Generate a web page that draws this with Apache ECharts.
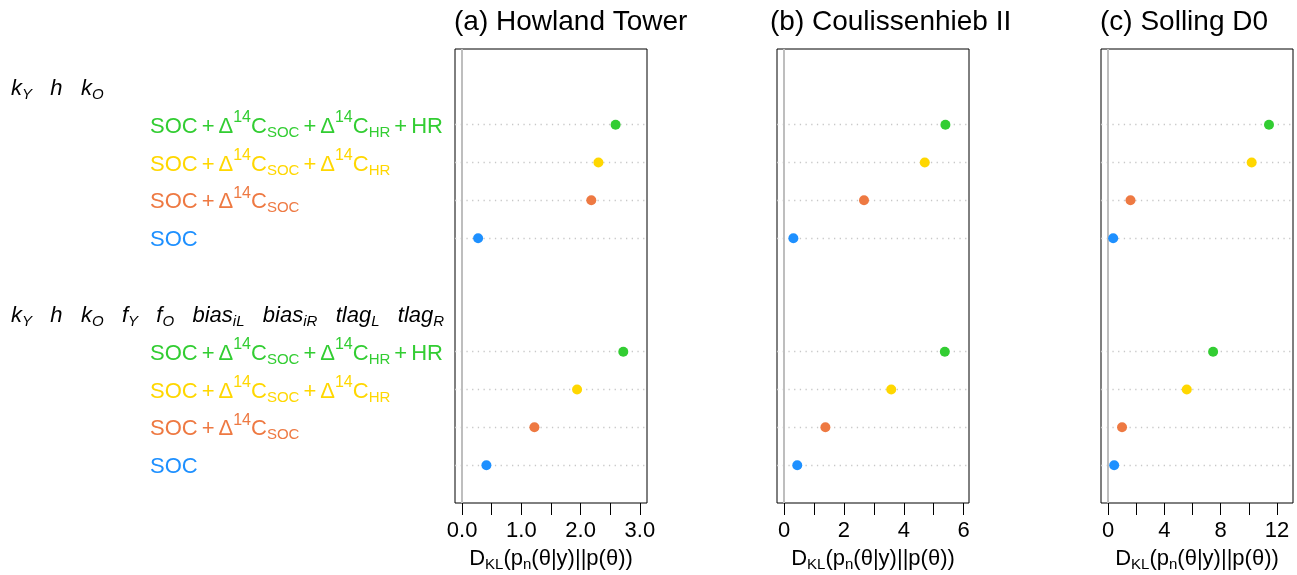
<!DOCTYPE html>
<html><head><meta charset="utf-8">
<script src="https://cdn.jsdelivr.net/npm/echarts@6/dist/echarts.min.js"></script>
<style>html,body{margin:0;padding:0;background:#fff}#c{width:1297px;height:575px}</style>
</head><body><div id="c"></div>
<script>
// ---------- data ----------
const panelTitles = ['(a) Howland Tower', '(b) Coulissenhieb II', '(c) Solling D0'];
const groupLabels = ['k_{Y}   h   k_{O}', 'k_{Y}   h   k_{O}   f_{Y}   f_{O}   bias_{iL}   bias_{iR}   tlag_{L}   tlag_{R}'];
const comboLabels = ['SOC + Δ^{14}C_{SOC} + Δ^{14}C_{HR} + HR', 'SOC + Δ^{14}C_{SOC} + Δ^{14}C_{HR}', 'SOC + Δ^{14}C_{SOC}', 'SOC'];
const comboColors = ['#32CD32', '#FFD700', '#EE7942', '#1E90FF'];
const groupRows = [0, 6];
const comboRows = [1, 2, 3, 4, 7, 8, 9, 10];
const howland = [2.59, 2.30, 2.18, 0.27, 2.72, 1.94, 1.22, 0.41];
const coulissenhieb = [5.39, 4.70, 2.67, 0.31, 5.37, 3.58, 1.38, 0.44];
const solling = [11.43, 10.20, 1.59, 0.36, 7.46, 5.59, 0.99, 0.43];
const xLimits = [[-0.12, 3.12], [-0.237, 6.178], [-0.505, 13.136]];
const xTicks = [[0, 0.5, 1, 1.5, 2, 2.5, 3], [0, 1, 2, 3, 4, 5, 6], [0, 2, 4, 6, 8, 10, 12]];
const xTickLabels = [[0, 1, 2, 3], [0, 2, 4, 6], [0, 4, 8, 12]];
const xLabelDigits = [1, 0, 0];
const axisTitle = 'D_{KL}(p_{n}(θ|y)||p(θ))';

// ---------- helpers ----------
const FONT = "'Liberation Sans', Arial, Helvetica, sans-serif";
function toRich(s, k) {
  const parts = s.split(/(\^\{[^}]*\}|_\{[^}]*\}| \+ )/).filter(p => p !== '');
  return parts.map(p => {
    if (p.startsWith('^{')) return '{sup' + k + '|' + p.slice(2, -1) + '}';
    if (p.startsWith('_{')) return '{sub' + k + '|' + p.slice(2, -1) + '}';
    if (p === ' + ') return '{op' + k + '|+}';
    return '{m' + k + '|' + p + '}';
  }).join('');
}
function richSet(k, color, italic) {
  const fs = italic ? 'italic' : 'normal';
  const o = {};
  o['m' + k] = {color, fontSize: 22, fontFamily: FONT, fontStyle: fs, lineHeight: 26, padding: [4, 0, 0, 0]};
  o['sup' + k] = {color, fontSize: 16, fontFamily: FONT, fontStyle: fs, lineHeight: 26, padding: [0, 0, 14, 0]};
  o['sub' + k] = {color, fontSize: 15, fontFamily: FONT, fontStyle: fs, lineHeight: 26, padding: [16, 0, 0, 0]};
  o['op' + k] = {color, fontSize: 22, fontFamily: FONT, fontStyle: fs, lineHeight: 26, padding: [4, 4, 0, 4]};
  return o;
}
const comboRich = Object.assign({}, ...comboColors.map((c, i) => richSet('c' + i, c, false)));
const headRich = richSet('h', '#000', true);
const nameRich = richSet('n', '#000', false);

const panels = [howland, coulissenhieb, solling];
const gridLefts = [455, 777, 1101];
const titleLefts = [454, 770, 1100];

const grids = gridLefts.map(l => ({left: l, top: 49, width: 192, height: 454, show: true,
  borderColor: '#000', borderWidth: 1, backgroundColor: 'transparent', containLabel: false,
  outerBoundsMode: 'none'}));

const xAxes = panels.map((_, p) => ({
  gridIndex: p, type: 'value', min: xLimits[p][0], max: xLimits[p][1], position: 'bottom',
  axisLine: {show: false, onZero: false}, splitLine: {show: false},
  axisTick: {show: true, inside: false, customValues: xTicks[p], length: 12, lineStyle: {color: '#000', width: 1}},
  axisLabel: {customValues: xTickLabels[p], formatter: v => Number(v).toFixed(xLabelDigits[p]),
    fontSize: 22, fontFamily: FONT, color: '#000', margin: 17, lineHeight: 22},
  name: toRich(axisTitle, 'n'), nameLocation: 'middle', nameGap: 41, nameMoveOverlap: false,
  nameTextStyle: {rich: nameRich, fontFamily: FONT, fontSize: 22, color: '#000'}
}));

const yBase = {type: 'value', inverse: true, min: -1, max: 11, interval: 1,
  axisLine: {show: false, onZero: false}, axisTick: {show: false}, splitLine: {show: false}};
const yAxes = [
  Object.assign({}, yBase, {gridIndex: 0, position: 'left', offset: 0,
    axisLabel: {customValues: comboRows, margin: 305, align: 'left', rich: comboRich,
      formatter: v => { const i = comboRows.indexOf(Number(v)); return i < 0 ? '' : toRich(comboLabels[i % 4], 'c' + (i % 4)); }}}),
  Object.assign({}, yBase, {gridIndex: 0, position: 'left', offset: 0,
    axisLabel: {customValues: groupRows, margin: 444, align: 'left', rich: headRich,
      formatter: v => { const i = groupRows.indexOf(Number(v)); return i < 0 ? '' : toRich(groupLabels[i], 'h'); }}}),
  Object.assign({}, yBase, {gridIndex: 1, axisLabel: {show: false}}),
  Object.assign({}, yBase, {gridIndex: 2, axisLabel: {show: false}})
];

const series = panels.map((vals, p) => ({
  type: 'scatter', xAxisIndex: p, yAxisIndex: p === 0 ? 0 : p + 1,
  symbol: 'circle', symbolSize: 10, z: 3, silent: true,
  itemStyle: {opacity: 1},
  data: vals.map((v, i) => ({value: [v, comboRows[i]], itemStyle: {color: comboColors[i % 4], opacity: 1}})),
  markLine: {
    silent: true, symbol: ['none', 'none'], z: 1, animation: false,
    label: {show: false},
    data: comboRows.map(r => ({yAxis: r, lineStyle: {color: '#c8c8c8', width: 1.3, type: [1.3, 4.4]}}))
      .concat([{xAxis: 0, lineStyle: {color: '#bebebe', width: 2, type: 'solid'}}])
  }
}));

const chart = echarts.init(document.getElementById('c'), null, {renderer: 'canvas'});
chart.setOption({
  animation: false,
  backgroundColor: '#fff',
  title: panelTitles.map((t, i) => ({text: t, left: titleLefts[i], top: 7, padding: 0,
    textStyle: {fontSize: 28, fontWeight: 'normal', color: '#000', fontFamily: FONT, lineHeight: 30}})),
  grid: grids, xAxis: xAxes, yAxis: yAxes, series
});
</script></body></html>
